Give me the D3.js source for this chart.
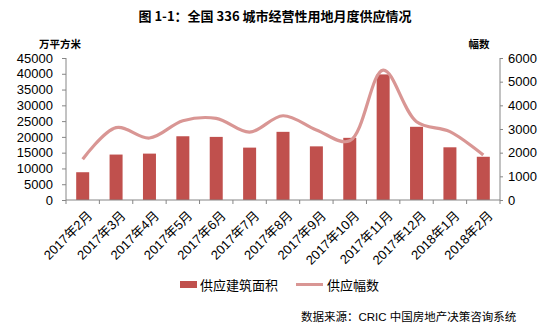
<!DOCTYPE html>
<html><head><meta charset="utf-8">
<script src="https://cdn.jsdelivr.net/npm/d3@7"></script>
<style>body{margin:0;background:#fff}svg{display:block}</style>
</head><body>
<svg id="c" width="550" height="326"></svg>
<script>
const categories = ["2017年2月","2017年3月","2017年4月","2017年5月","2017年6月","2017年7月","2017年8月","2017年9月","2017年10月","2017年11月","2017年12月","2018年1月","2018年2月"];
const areaValues = [8800,14400,14700,20200,20000,16600,21600,17000,19700,39800,23200,16700,13700];
const countValues = [1720,3060,2620,3350,3450,2870,3560,2960,2500,5490,3310,2890,1900];
const leftTicks = [0,5000,10000,15000,20000,25000,30000,35000,40000,45000];
const rightTicks = [0,1000,2000,3000,4000,5000,6000];
const seriesNames = ["供应建筑面积","供应幅数"];
const title = "图 1-1：全国 336 城市经营性用地月度供应情况";
const source = "数据来源：CRIC 中国房地产决策咨询系统";

const svg = d3.select("#c");
const L = 66, R = 500, T = 58, B = 200;
const font = "'Liberation Sans', Arial, sans-serif";
const cjk = "'Noto Sans CJK SC', sans-serif";
const mixed = "'Liberation Sans', 'Noto Sans CJK SC', sans-serif";
const axisColor = "#868686";

const xb = d3.scaleBand().domain(categories).range([L, R]);
const yL = d3.scaleLinear().domain([0,45000]).range([B, T]);
const yR = d3.scaleLinear().domain([0,6000]).range([B, T]);

svg.append("text").attr("x", 275).attr("y", 21).attr("text-anchor","middle")
  .attr("font-family", cjk).attr("font-weight","bold").attr("font-size", 13).text(title);
svg.append("text").attr("x", 60).attr("y", 48).attr("text-anchor","middle")
  .attr("font-family", cjk).attr("font-weight","bold").attr("font-size", 10.5).text("万平方米");
svg.append("text").attr("x", 479).attr("y", 48).attr("text-anchor","middle")
  .attr("font-family", cjk).attr("font-weight","bold").attr("font-size", 10.5).text("幅数");

// bars
svg.append("g").selectAll("rect").data(areaValues).join("rect")
  .attr("x", (d,i)=>xb(categories[i]) + xb.bandwidth()/2 - 6.5)
  .attr("width", 13)
  .attr("y", d=>yL(d)).attr("height", d=>B - yL(d))
  .attr("fill", "#c0504d");

// line
const line = d3.line()
  .x((d,i)=>xb(categories[i]) + xb.bandwidth()/2)
  .y(d=>yR(d))
  .curve(d3.curveCatmullRom.alpha(0.5));
svg.append("path").datum(countValues).attr("d", line)
  .attr("fill","none").attr("stroke","#d99694").attr("stroke-width",3.2).attr("stroke-linecap","butt");

// left axis
const gL = svg.append("g").attr("transform",`translate(${L},0)`)
  .call(d3.axisLeft(yL).tickValues(leftTicks).tickSize(4).tickPadding(9).tickFormat(d3.format("d")));
// right axis
const gR = svg.append("g").attr("transform",`translate(${R},0)`)
  .call(d3.axisRight(yR).tickValues(rightTicks).tickSize(3).tickPadding(5).tickFormat(d3.format("d")));
// bottom axis
const gB = svg.append("g").attr("transform",`translate(0,${B})`)
  .call(d3.axisBottom(xb).tickSize(0).tickPadding(6));
// band boundary ticks
gB.append("g").selectAll("line").data(d3.range(categories.length+1)).join("line")
  .attr("x1", i=>L + i*xb.step()).attr("x2", i=>L + i*xb.step())
  .attr("y1", 0).attr("y2", 4).attr("stroke", axisColor);

[gL,gR,gB].forEach(g=>{
  g.selectAll(".domain").attr("stroke", axisColor);
  g.selectAll(".tick line").attr("stroke", axisColor);
  g.selectAll("text").attr("font-family", font).attr("font-size", 13).attr("fill","#000");
});
gL.select(".domain").attr("d", `M0,${T}V${B}`);
gR.select(".domain").attr("d", `M0,${T}V${B}`);
gB.select(".domain").attr("d", `M${L},0H${R}`);
gB.selectAll(".tick text")
  .attr("font-family", mixed).attr("font-size", 13)
  .attr("text-anchor","end")
  .attr("transform","translate(3,9) rotate(-45)")
  .attr("dy","0.35em");

// legend
const lg = svg.append("g").attr("font-family", cjk).attr("font-size", 13);
lg.append("rect").attr("x",180).attr("y",281).attr("width",17).attr("height",7).attr("fill","#c0504d");
lg.append("text").attr("x",200).attr("y",289.5).text(seriesNames[0]);
lg.append("line").attr("x1",296).attr("x2",323).attr("y1",284.5).attr("y2",284.5).attr("stroke","#d99694").attr("stroke-width",3);
lg.append("text").attr("x",327).attr("y",289.5).text(seriesNames[1]);

svg.append("text").attr("x",301).attr("y",321).attr("font-family", mixed).attr("font-size",11.5).text(source);
</script>
</body></html>
